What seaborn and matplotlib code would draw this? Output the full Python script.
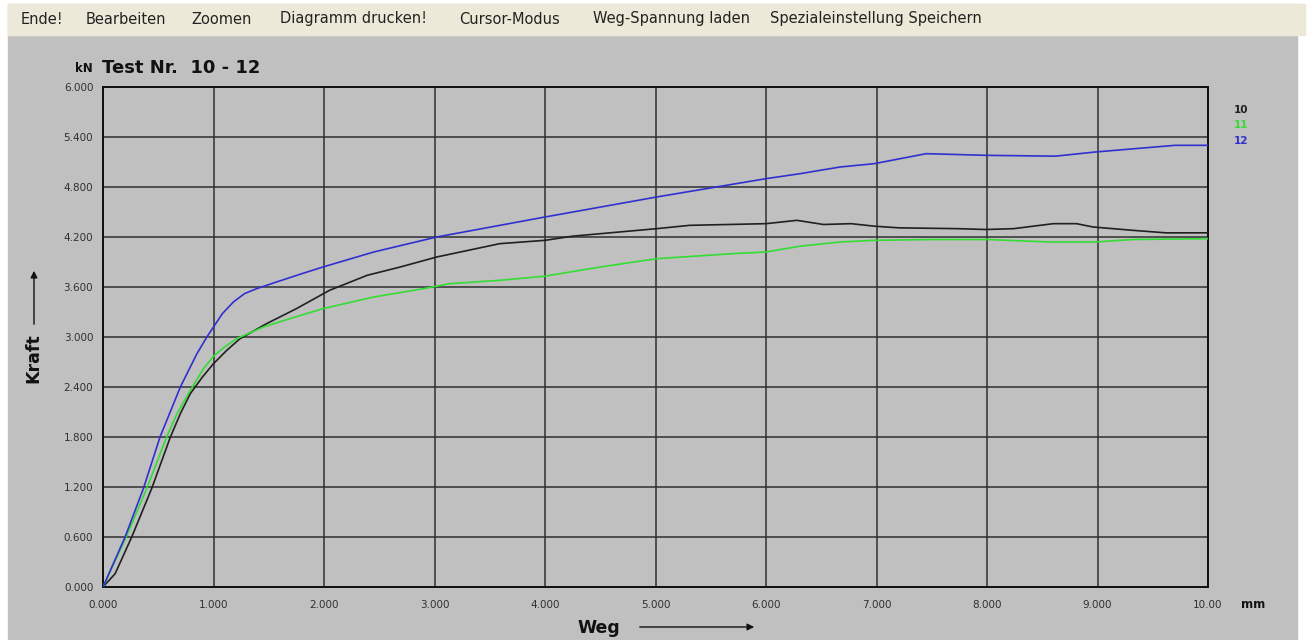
import numpy as np
import pandas as pd
import seaborn as sns
import matplotlib.pyplot as plt
from matplotlib.patches import Rectangle

# Weg (mm) / Kraft (kN)
weg_10 = [0.0, 0.11, 0.26, 0.44, 0.61, 0.70, 0.79, 0.90, 1.0, 1.12, 1.24, 1.48, 1.75, 2.05, 2.39, 2.69,
          3.02, 3.59, 4.0, 4.25, 5.01, 5.31, 6.0, 6.28, 6.52, 6.77, 6.98, 7.2, 7.74, 7.99, 8.24, 8.6,
          8.81, 8.96, 9.32, 9.62, 10.0]
kraft_10 = [0.0, 0.16, 0.60, 1.18, 1.80, 2.08, 2.32, 2.52, 2.68, 2.84, 2.98, 3.16, 3.34, 3.56, 3.74, 3.84,
            3.96, 4.12, 4.16, 4.21, 4.30, 4.34, 4.36, 4.40, 4.35, 4.36, 4.33, 4.31, 4.30, 4.29, 4.30, 4.36,
            4.36, 4.32, 4.28, 4.25, 4.25]

weg_11 = [0.0, 0.21, 0.395, 0.576, 0.67, 0.79, 0.91, 1.0, 1.10, 1.21, 1.45, 1.69, 1.99, 2.45, 2.90, 3.14,
          3.59, 4.0, 4.5, 5.01, 5.7, 6.0, 6.31, 6.67, 6.98, 7.51, 8.0, 8.57, 8.98, 9.32, 10.0]
kraft_11 = [0.0, 0.60, 1.18, 1.80, 2.08, 2.36, 2.62, 2.77, 2.88, 2.98, 3.12, 3.22, 3.34, 3.48, 3.58, 3.64,
            3.68, 3.73, 3.84, 3.94, 4.00, 4.02, 4.09, 4.14, 4.16, 4.17, 4.17, 4.14, 4.14, 4.17, 4.18]

weg_12 = [0.0, 0.20, 0.365, 0.516, 0.70, 0.76, 0.85, 0.94, 1.0, 1.08, 1.18, 1.28, 1.39, 1.57, 1.80, 1.99,
          2.45, 3.02, 4.0, 5.01, 6.0, 6.31, 6.67, 6.98, 7.45, 7.99, 8.62, 8.98, 9.7, 10.0]
kraft_12 = [0.0, 0.60, 1.18, 1.80, 2.40, 2.56, 2.80, 3.00, 3.12, 3.28, 3.42, 3.52, 3.58, 3.66, 3.76, 3.84,
            4.02, 4.20, 4.44, 4.68, 4.90, 4.96, 5.04, 5.08, 5.20, 5.18, 5.17, 5.22, 5.30, 5.30]

tests = ["10", "11", "12"]
colors = {"10": "#202020", "11": "#33dd33", "12": "#3030d0"}

y_ticks = [0.0, 0.6, 1.2, 1.8, 2.4, 3.0, 3.6, 4.2, 4.8, 5.4, 6.0]
x_ticks = [0, 1, 2, 3, 4, 5, 6, 7, 8, 9, 10]
x_labels = ["0.000", "1.000", "2.000", "3.000", "4.000", "5.000", "6.000", "7.000", "8.000", "9.000", "10.00"]
menu = ["Ende!", "Bearbeiten", "Zoomen", "Diagramm drucken!", "Cursor-Modus",
        "Weg-Spannung laden", "Spezialeinstellung Speichern"]
menu_x = [21, 86, 191, 280, 459, 593, 770]

df = pd.concat([
    pd.DataFrame({"Weg": weg_10, "Kraft": kraft_10, "Test": "10"}),
    pd.DataFrame({"Weg": weg_11, "Kraft": kraft_11, "Test": "11"}),
    pd.DataFrame({"Weg": weg_12, "Kraft": kraft_12, "Test": "12"}),
])

sns.set_style("white", {"axes.facecolor": "#c0c0c0"})
plt.rcParams["font.family"] = ["DejaVu Sans"]

W, H = 1307, 640
fig = plt.figure(figsize=(W / 100, H / 100), dpi=100, facecolor="#c0c0c0")

# window chrome: white frame, menu bar
fig.patches.append(Rectangle((0, 0), 1, 1, transform=fig.transFigure, color="white", zorder=-3))
fig.patches.append(Rectangle((8 / W, 0), 1289 / W, 1 - 4 / H, transform=fig.transFigure,
                             color="#c0c0c0", zorder=-2))
fig.patches.append(Rectangle((8 / W, 1 - 35 / H), 1297 / W, 31 / H, transform=fig.transFigure,
                             color="#ece9d8", zorder=-1))
for m, mx in zip(menu, menu_x):
    fig.text(mx / W, 1 - 19 / H, m, fontsize=10.5, color="#222222", va="center", ha="left")

ax = fig.add_axes([103 / W, 1 - 587 / H, 1105 / W, 500 / H])
sns.lineplot(data=df, x="Weg", y="Kraft", hue="Test", palette=colors, sort=False,
             linewidth=1.2, legend=False, ax=ax, zorder=3)

ax.set_xlim(0, 10)
ax.set_ylim(0, 6)
ax.set_xticks(x_ticks)
ax.set_xticklabels(x_labels)
ax.set_yticks(y_ticks)
ax.set_yticklabels([f"{v:.3f}" for v in y_ticks])
ax.tick_params(axis="both", labelsize=7.5, colors="#303030", length=0)
ax.tick_params(axis="x", pad=9)
ax.tick_params(axis="y", pad=7)
ax.grid(True, color="#303030", linewidth=1.1)
for s in ax.spines.values():
    s.set_color("#101010")
    s.set_linewidth(1.4)
ax.set_xlabel("")
ax.set_ylabel("")

# titles and axis names
fig.text(75 / W, 1 - 69 / H, "kN", fontsize=8.5, fontweight="bold", va="center", color="#111111")
fig.text(102 / W, 1 - 68 / H, "Test Nr.  10 - 12", fontsize=13, fontweight="bold", va="center",
         color="#111111")
fig.text(1241 / W, 1 - 604 / H, "mm", fontsize=8.5, fontweight="bold", va="center", color="#111111")
fig.text(577 / W, 1 - 628 / H, "Weg", fontsize=12.5, fontweight="bold", va="center", color="#111111")
fig.text(33 / W, 1 - 358 / H, "Kraft", fontsize=12.5, fontweight="bold", va="center", ha="center",
         rotation=90, color="#111111")
ax.annotate("", xy=(757 / W, 1 - 627 / H), xytext=(637 / W, 1 - 627 / H), xycoords="figure fraction",
            arrowprops=dict(arrowstyle="-|>", color="#111111", lw=1.0, mutation_scale=10),
            annotation_clip=False)
ax.annotate("", xy=(34 / W, 1 - 268 / H), xytext=(34 / W, 1 - 327 / H), xycoords="figure fraction",
            arrowprops=dict(arrowstyle="-|>", color="#111111", lw=1.0, mutation_scale=10),
            annotation_clip=False)

# legend as coloured labels
for i, t in enumerate(tests):
    fig.text(1234 / W, 1 - (110 + 15.5 * i) / H, t, fontsize=7.5, fontweight="bold",
             color=colors[t], va="center")

fig.savefig("out.png", dpi=100, facecolor=fig.get_facecolor())
